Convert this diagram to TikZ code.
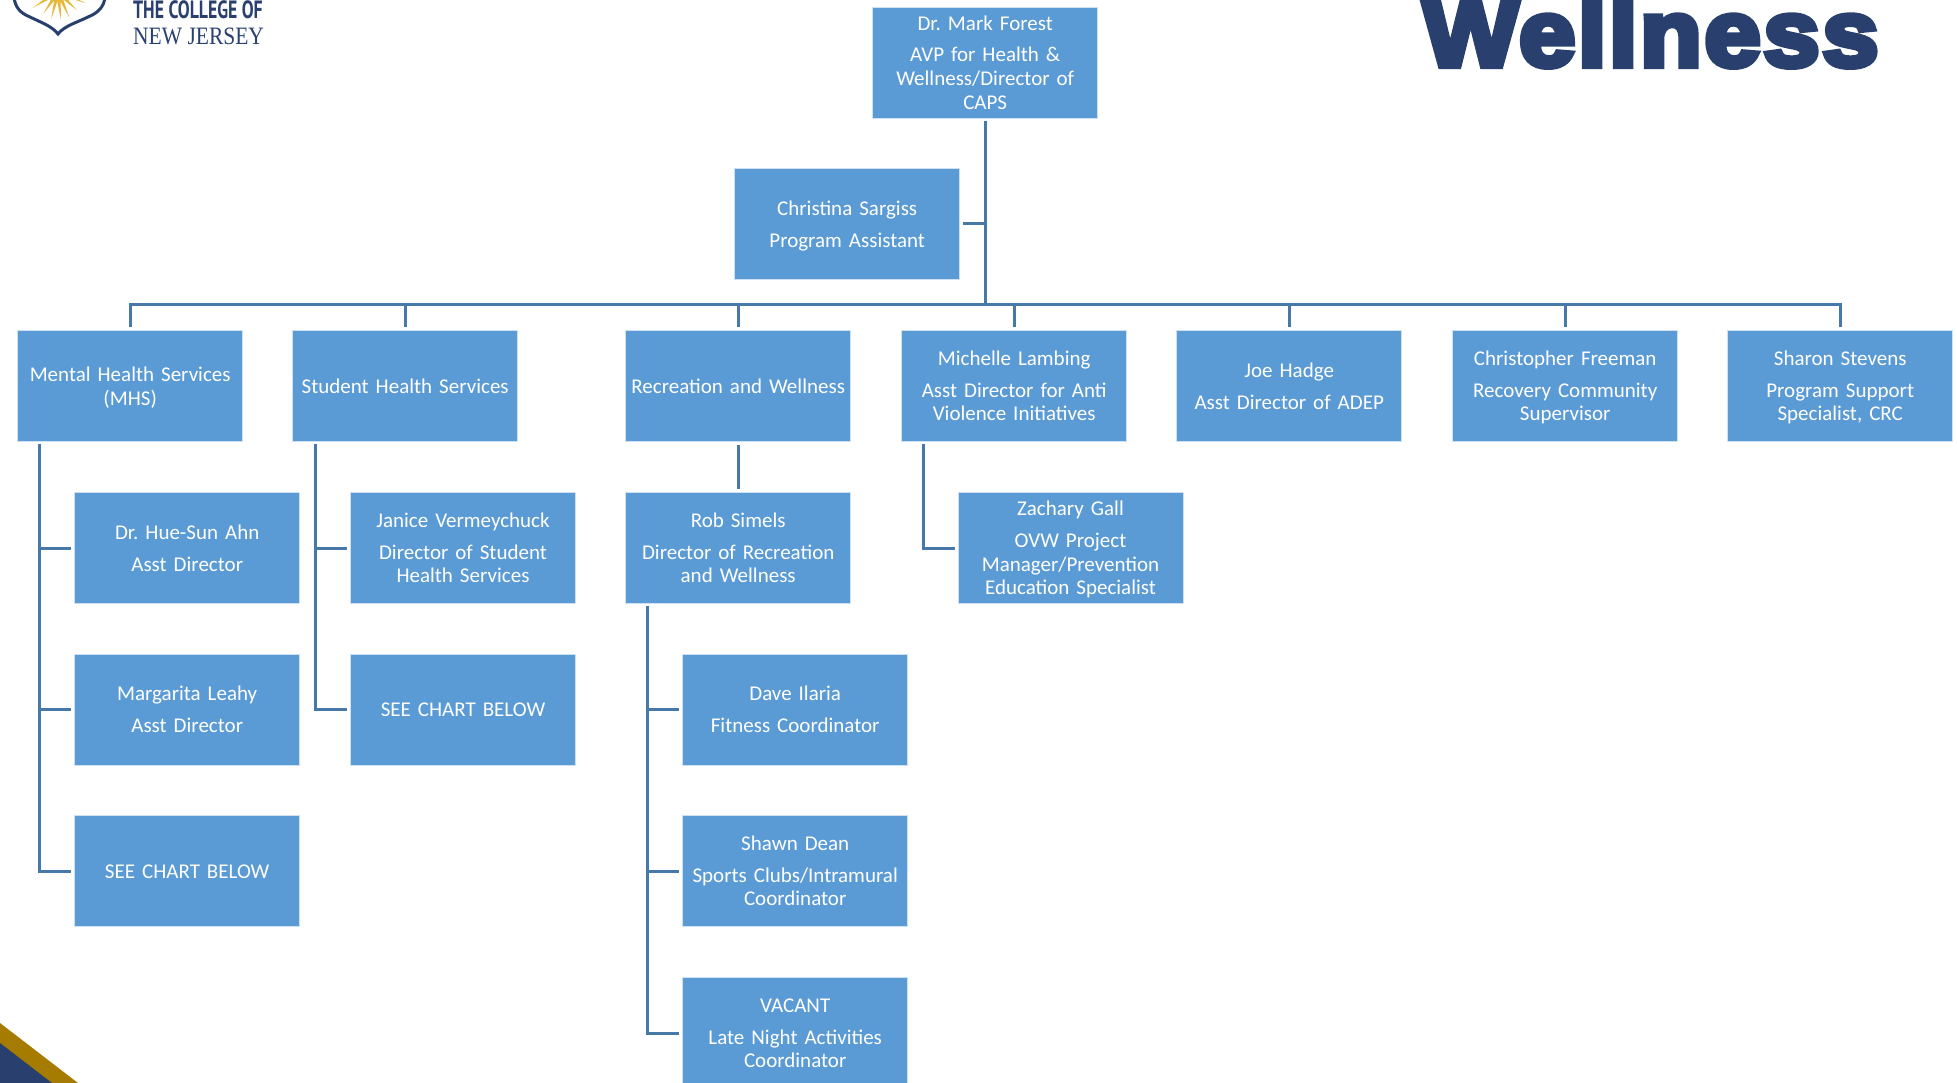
\documentclass[tikz,border=0pt]{standalone}
\usepackage{fontspec}
\usetikzlibrary{calc}
\setmainfont[WordSpace=0.85]{Carlito}
\newfontfamily\wellfont[LetterSpace=3,BoldFeatures={FakeBold=6.5}]{Liberation Sans}
\newfontfamily\logosans{PT Sans}
\newfontfamily\logoserif{Liberation Serif}
\definecolor{boxblue}{HTML}{5B9BD5}
\definecolor{linkblue}{HTML}{4678A8}
\definecolor{navy}{HTML}{29406F}
\definecolor{stripe}{HTML}{A67C00}
\definecolor{sungold}{HTML}{E5B73B}
\newcommand{\topstrut}{\vrule width 0pt height 21.6pt depth 0pt\relax}
\tikzset{
  orgbox/.style={fill=boxblue,draw=white!70!boxblue,line width=0.5pt,text=white,minimum width=225pt,minimum height=111pt,inner sep=0pt,align=center,text width=221pt,font=\fontsize{21}{23.7}\selectfont\frenchspacing,execute at begin node=\topstrut,execute at end node=\strut},
  link/.style={draw=linkblue,line width=3.4pt,shorten <=3pt},
  sublink/.style={draw=linkblue,line width=3pt,shorten <=3pt},
  spine/.style={draw=linkblue,line width=3pt,shorten <=3pt,shorten >=3pt},
}
\newcommand{\pgap}{\\[8pt]}
\begin{document}
\begin{tikzpicture}[x=1pt,y=-1pt]
\useasboundingbox (0,0) rectangle (1957,1083);
\begin{scope}
\clip (0,0) rectangle (1957,1083);
% corner
\fill[stripe] (0,1023) -- (78,1083) -- (0,1083) -- cycle;
\fill[navy] (0,1043) -- (52,1083) -- (0,1083) -- cycle;
% logo
\foreach \a/\l in {-68/30,-46/26,-24/28,-6/28,14/28,34/26,58/30}{
  \fill[sungold] ($(58,-8)+(90+\a:8)+(\a:1.8)$) -- ($(58,-8)+(90+\a:8)+(\a+180:1.8)$) -- ($(58,-8)+(90+\a:\l)$) -- cycle;
}
\draw[navy,line width=3pt,line join=miter] (14,-3) .. controls (15,7) and (20,13) .. (30,17) .. controls (40,22) and (52,26) .. (58,34) .. controls (64,26) and (78,22) .. (88,17) .. controls (98,13) and (104,7) .. (105,-3);
\node[anchor=base west,inner sep=0,text=navy,font=\logosans\bfseries\fontsize{25}{25}\selectfont,xscale=0.71] (collegeword) at (133,19) {THE COLLEGE OF};
\node[anchor=base west,inner sep=0,text=navy,font=\logoserif\fontsize{25}{25}\selectfont,xscale=0.86] (jerseyword) at (133,45) {NEW JERSEY};
\node[anchor=base west,inner sep=0,text=navy,font=\wellfont\bfseries\fontsize{94}{94}\selectfont,xscale=1.07] (wellword) at (1423,66) {Wellness};
% boxes
\node[orgbox] (top) at (985.2,62.5) {Dr. Mark Forest\pgap AVP for Health \&\\ Wellness/Director of\\ CAPS};
\node[orgbox] (pa) at (847.2,224) {Christina Sargiss\pgap Program Assistant};
\node[orgbox] (mhs) at (130.2,386) {Mental Health Services\\ (MHS)};
\node[orgbox] (shs) at (405.2,386) {Student Health Services};
\node[orgbox] (rec) at (738.2,386) {Recreation and Wellness};
\node[orgbox] (lambing) at (1014.2,386) {Michelle Lambing\pgap Asst Director for Anti\\ Violence Initiatives};
\node[orgbox] (hadge) at (1289.2,386) {Joe Hadge\pgap Asst Director of ADEP};
\node[orgbox] (freeman) at (1565.2,386) {Christopher Freeman\pgap Recovery Community\\ Supervisor};
\node[orgbox] (stevens) at (1840.2,386) {Sharon Stevens\pgap Program Support\\ Specialist, CRC};
\node[orgbox] (ahn) at (187.2,548) {Dr. Hue-Sun Ahn\pgap Asst Director};
\node[orgbox] (leahy) at (187.2,709.5) {Margarita Leahy\pgap Asst Director};
\node[orgbox] (seea) at (187.2,871) {SEE CHART BELOW};
\node[orgbox] (verm) at (463,548) {Janice Vermeychuck\pgap Director of Student\\ Health Services};
\node[orgbox] (seeb) at (463,709.5) {SEE CHART BELOW};
\node[orgbox] (simels) at (738.2,548) {Rob Simels\pgap Director of Recreation\\ and Wellness};
\node[orgbox] (ilaria) at (795.2,709.5) {Dave Ilaria\pgap Fitness Coordinator};
\node[orgbox] (dean) at (795.2,871) {Shawn Dean\pgap Sports Clubs/Intramural\\ Coordinator};
\node[orgbox] (vacant) at (795.2,1033) {VACANT\pgap Late Night Activities\\ Coordinator};
\node[orgbox] (gall) at (1070.5,548) {Zachary Gall\pgap OVW Project\\ Manager/Prevention\\ Education Specialist};
% connector points
\coordinate (bus) at (985.2,305);
\coordinate (mhsT) at (39,441);
\coordinate (shsT) at (315,441);
\coordinate (simT) at (647.5,603);
\coordinate (lamT) at (923.5,441);
% connectors
\draw[link] (top.south) -- (bus);
\draw[sublink] (pa.east) -- (pa.east -| bus);
\foreach \n in {mhs,shs,rec,lambing,hadge,freeman,stevens}{
  \draw[sublink] (\n.north) |- (bus);
}
\draw[spine] (rec.south) -- (simels.north);
\foreach \s/\c in {mhsT/ahn,mhsT/leahy,mhsT/seea,shsT/verm,shsT/seeb,simT/ilaria,simT/dean,simT/vacant,lamT/gall}{
  \draw[spine] (\s) |- (\c.west);
}
\end{scope}
\end{tikzpicture}
\end{document}
